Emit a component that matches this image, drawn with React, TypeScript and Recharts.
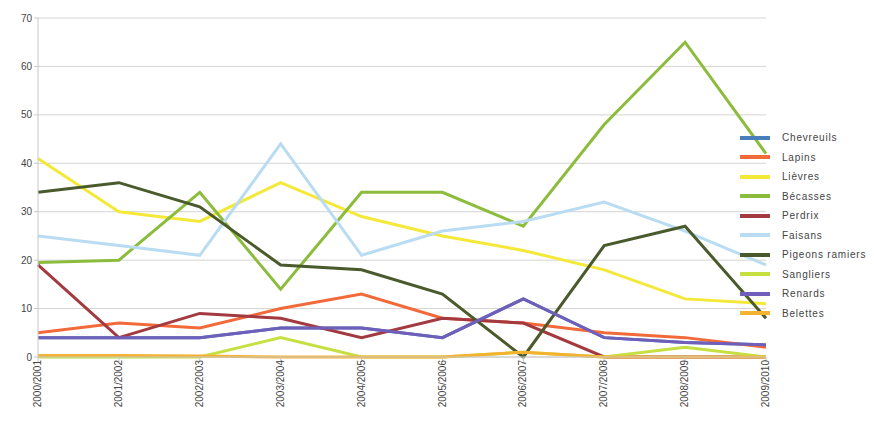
import { LineChart, Line, XAxis, YAxis, CartesianGrid } from 'recharts';

const seasons = [
  '2000/2001', '2001/2002', '2002/2003', '2003/2004', '2004/2005',
  '2005/2006', '2006/2007', '2007/2008', '2008/2009', '2009/2010',
];

const chevreuils = [4, 4, 4, 6, 6, 4, 12, 4, 3, 2.5];
const lapins = [5, 7, 6, 10, 13, 8, 7, 5, 4, 2];
const lievres = [41, 30, 28, 36, 29, 25, 22, 18, 12, 11];
const becasses = [19.5, 20, 34, 14, 34, 34, 27, 48, 65, 42];
const perdrix = [19, 4, 9, 8, 4, 8, 7, 0, 0, 0];
const faisans = [25, 23, 21, 44, 21, 26, 28, 32, 26, 19];
const pigeons = [34, 36, 31, 19, 18, 13, 0, 23, 27, 8];
const sangliers = [0, 0, 0, 4, 0, 0, 1, 0, 2, 0];
const renards = [4, 4, 4, 6, 6, 4, 12, 4, 3, 2.5];
const belettes = [0.3, 0.3, 0.2, 0, 0, 0, 1, 0, 0, 0];

const yTicks = [0, 10, 20, 30, 40, 50, 60, 70];

const series = [
  { key: 'Chevreuils', values: chevreuils, color: '#4a7ebb' },
  { key: 'Lapins', values: lapins, color: '#f26a3a' },
  { key: 'Lièvres', values: lievres, color: '#f4e838' },
  { key: 'Bécasses', values: becasses, color: '#8cbc3c' },
  { key: 'Perdrix', values: perdrix, color: '#a33a40' },
  { key: 'Faisans', values: faisans, color: '#b9dcf2' },
  { key: 'Pigeons ramiers', values: pigeons, color: '#4b5a2c' },
  { key: 'Sangliers', values: sangliers, color: '#c6e042' },
  { key: 'Renards', values: renards, color: '#6f5fba' },
  { key: 'Belettes', values: belettes, color: '#f4b232' },
];

const data = seasons.map((season, i) => {
  const row: Record<string, string | number> = { season };
  series.forEach((s) => {
    row[s.key] = s.values[i];
  });
  return row;
});

const font = "'Liberation Sans', Arial, sans-serif";

export default function App() {
  return (
    <div style={{ position: 'absolute', left: 0, top: 0, width: 874, height: 428, background: '#fff', fontFamily: font }}>
      <LineChart width={874} height={428} data={data} margin={{ top: 18, right: 108, left: 8, bottom: 3 }}>
        <CartesianGrid stroke='#d4d4d4' vertical={false} />
        <XAxis
          dataKey='season'
          interval={0}
          height={68}
          angle={-90}
          textAnchor='end'
          dx={-4}
          dy={-4}
          tick={{ fontSize: 10, fill: '#444', fontFamily: font }}
          tickLine={{ stroke: '#c8c8c8' }}
          tickSize={5}
          axisLine={{ stroke: '#c8c8c8' }}
        />
        <YAxis
          domain={[0, 70]}
          ticks={yTicks}
          width={30}
          tick={{ fontSize: 10, fill: '#444', fontFamily: font }}
          tickLine={{ stroke: '#c8c8c8' }}
          tickSize={4}
          axisLine={{ stroke: '#c8c8c8' }}
        />
        {series.map((s) => (
          <Line
            key={s.key}
            type='linear'
            dataKey={s.key}
            stroke={s.color}
            strokeWidth={3}
            dot={false}
            isAnimationActive={false}
          />
        ))}
      </LineChart>
      <div style={{ position: 'absolute', left: 740, top: 128 }}>
        {series.map((s) => (
          <div key={s.key} style={{ display: 'flex', alignItems: 'center', height: 19.5 }}>
            <div style={{ width: 30, height: 4, background: s.color, marginRight: 12 }} />
            <span style={{ fontSize: 10, color: '#444', letterSpacing: 0.8 }}>{s.key}</span>
          </div>
        ))}
      </div>
    </div>
  );
}
